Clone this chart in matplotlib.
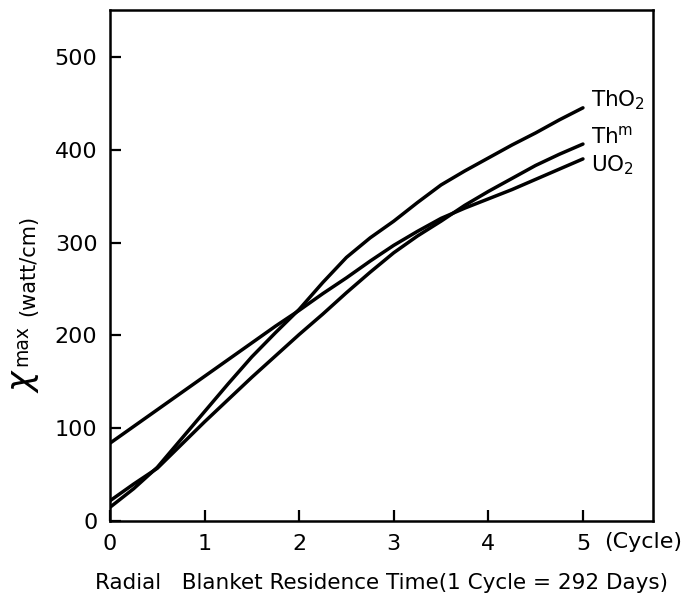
import numpy as np
import matplotlib
matplotlib.use("Agg")
import matplotlib.pyplot as plt

plt.rcParams['font.family'] = ['DejaVu Sans']
plt.rcParams['mathtext.fontset'] = 'dejavusans'

# residence time in cycles
cycles = [0, 0.25, 0.5, 0.75, 1, 1.25, 1.5, 1.75, 2, 2.25, 2.5,
          2.75, 3, 3.25, 3.5, 3.75, 4, 4.25, 4.5, 4.75, 5]

# chi max (watt/cm) for each blanket material
tho2 = [15, 35, 58, 88, 118, 148, 177, 203, 228, 257, 284,
        305, 323, 343, 362, 377, 391, 405, 418, 432, 445]
thm = [22, 40, 57, 82, 107, 131, 155, 178, 201, 223, 246,
       268, 289, 307, 323, 340, 355, 369, 383, 395, 406]
uo2 = [84, 102, 120, 138, 156, 174, 192, 210, 227, 245, 262,
       280, 297, 312, 326, 337, 347, 357, 368, 379, 390]

xticks = [0, 1, 2, 3, 4, 5]
yticks = [0, 100, 200, 300, 400, 500]

fig = plt.figure(figsize=(6.83, 6.04), dpi=100)
ax = fig.add_axes([0.161, 0.137, 0.795, 0.846])

for ys in (tho2, thm, uo2):
	ax.plot(cycles, ys, color='black', lw=2.5, solid_capstyle='round')

ax.set_xlim(0, 5.74)
ax.set_ylim(0, 550)
ax.set_xticks(xticks)
ax.set_yticks(yticks)
ax.tick_params(direction='in', length=8, width=1.6, labelsize=16, pad=9)
for s in ax.spines.values():
	s.set_linewidth(1.8)

#curve labels
ax.text(5.08, 453, r'ThO$_2$', fontsize=15.5, va='center')
ax.text(5.08, 414, r'Th$^{\mathrm{m}}$', fontsize=15.5, va='center')
ax.text(5.08, 383, r'UO$_2$', fontsize=15.5, va='center')
ax.text(5.22, -12, '(Cycle)', fontsize=16, va='top', ha='left', clip_on=False)

ax.set_xlabel('Radial   Blanket Residence Time(1 Cycle = 292 Days)', fontsize=15.5, labelpad=14)

#y label pieces: big chi, small "max", then units
fig.text(0.035, 0.371, r'$\chi$', fontsize=25, rotation=90, ha='center', va='center')
fig.text(0.032, 0.428, 'max', fontsize=13.5, rotation=90, ha='center', va='center')
fig.text(0.041, 0.560, '(watt/cm)', fontsize=15, rotation=90, ha='center', va='center')

fig.savefig('out.png', dpi=100)
